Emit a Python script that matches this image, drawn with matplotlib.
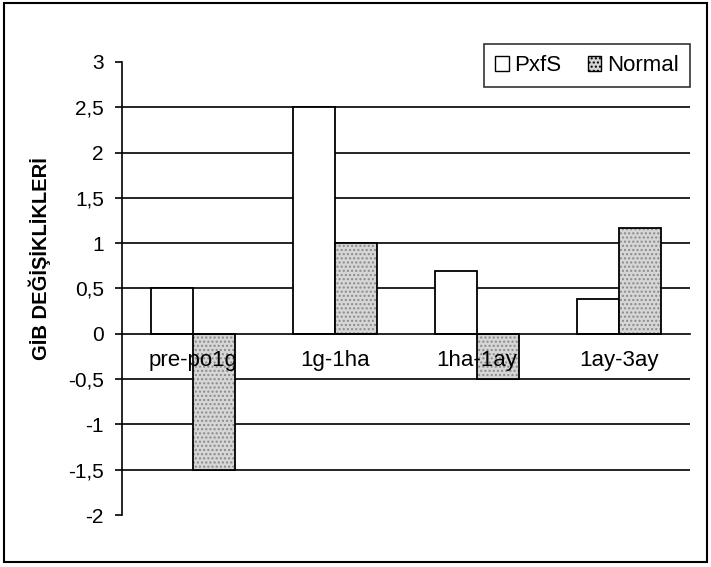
import matplotlib
matplotlib.use("Agg")
import matplotlib.pyplot as plt
import numpy as np
from matplotlib.patches import Patch, Rectangle

# values
categories = ["pre-po1g", "1g-1ha", "1ha-1ay", "1ay-3ay"]
pxfs = [0.5, 2.5, 0.69, 0.38]
normal = [-1.5, 1.0, -0.5, 1.17]
yticks = [3, 2.5, 2, 1.5, 1, 0.5, 0, -0.5, -1, -1.5, -2]
ytick_labels = ["3", "2,5", "2", "1,5", "1", "0,5", "0", "-0,5", "-1", "-1,5", "-2"]
grid_levels = [2.5, 2, 1.5, 1, 0.5, -0.5, -1, -1.5]

plt.rcParams["font.family"] = ["Liberation Sans", "DejaVu Sans"]

fig = plt.figure(figsize=(7.11, 5.67), dpi=100)
ax = fig.add_axes([0.1716, 0.0917, 0.7989, 0.7990])

x = np.arange(len(categories))
w = 0.296

for g in grid_levels:
    ax.axhline(g, color="black", lw=1.2, zorder=0)

ax.bar(x - w / 2, pxfs, w, color="white", edgecolor="black", lw=1.3, zorder=1)
ax.bar(x + w / 2, normal, w, color="#d6d6d6", edgecolor="#8a8a8a", hatch="....", lw=0, zorder=1)
ax.bar(x + w / 2, normal, w, fill=False, edgecolor="black", lw=1.3, zorder=1.1)

ax.set_xlim(-0.5, len(categories) - 0.5)
ax.set_ylim(-2, 3)

ax.spines["top"].set_visible(False)
ax.spines["right"].set_visible(False)
ax.spines["bottom"].set_position(("data", 0))
ax.spines["bottom"].set_linewidth(1.2)
ax.spines["left"].set_linewidth(1.2)

ax.set_yticks(yticks)
ax.set_yticklabels(ytick_labels)
ax.set_xticks(x)
ax.set_xticklabels(categories)
ax.tick_params(axis="x", length=0, pad=12, labelsize=16)
ax.tick_params(axis="y", direction="out", length=5, width=1.2, pad=8, labelsize=15)

ax.set_ylabel("GİB DEĞİŞİKLİKLERİ", fontsize=14.5, fontweight="bold")
ax.yaxis.set_label_coords(-0.125, 0.567)

handles = [Patch(facecolor="white", edgecolor="black", label="PxfS"),
           Patch(facecolor="#d6d6d6", edgecolor="black", hatch="....", label="Normal")]
leg = fig.legend(handles=handles, loc="upper right", bbox_to_anchor=(0.970, 0.922), ncol=2,
                 fontsize=16, frameon=True, fancybox=False, handlelength=0.6, handleheight=0.6,
                 handletextpad=0.25, columnspacing=1.2, borderpad=0.5, borderaxespad=0)
leg.get_frame().set_edgecolor("black")
leg.get_frame().set_linewidth(1.2)

fig.patches.append(Rectangle((0.006, 0.008), 0.988, 0.986, transform=fig.transFigure,
                             fill=False, edgecolor="black", lw=1.5))

fig.savefig("out.png", dpi=100)
